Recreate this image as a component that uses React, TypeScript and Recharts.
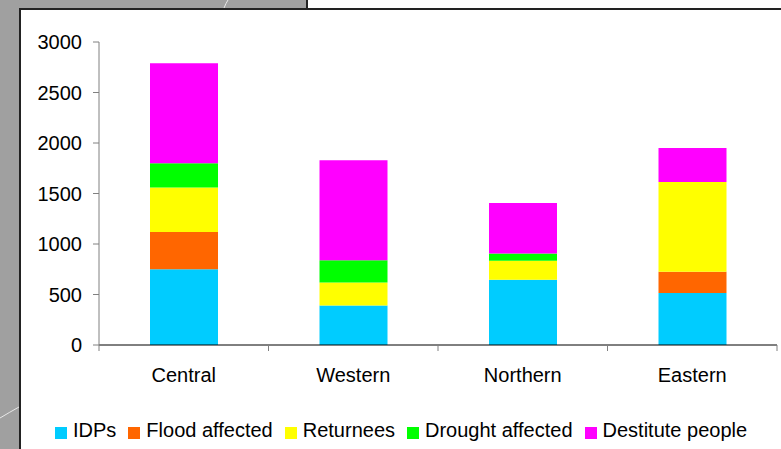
import { Bar, BarChart, Legend, XAxis, YAxis } from "recharts";

const regions = ["Central", "Western", "Northern", "Eastern"];
const idps = [750, 390, 645, 515];
const flood = [370, 0, 0, 210];
const returnees = [440, 230, 190, 890];
const drought = [240, 220, 70, 0];
const destitute = [990, 990, 500, 335];
const yTicks = [0, 500, 1000, 1500, 2000, 2500, 3000];

const series = [
  { key: "idps", name: "IDPs", color: "#00CCFF" },
  { key: "flood", name: "Flood affected", color: "#FF6600" },
  { key: "returnees", name: "Returnees", color: "#FFFF00" },
  { key: "drought", name: "Drought affected", color: "#00FF00" },
  { key: "destitute", name: "Destitute people", color: "#FF00FF" },
];

const data = regions.map((region, i) => ({
  region,
  idps: idps[i],
  flood: flood[i],
  returnees: returnees[i],
  drought: drought[i],
  destitute: destitute[i],
}));

const FONT = "'Liberation Sans', Arial, sans-serif";

const RegionTick = (props: any) => {
  const { x, y, payload, index } = props;
  const half = payload && payload.offset ? payload.offset : 84.75;
  return (
    <g>
      <line x1={x - half} y1={y} x2={x - half} y2={y + 6} stroke="#808080" />
      {index === regions.length - 1 && (
        <line x1={x + half} y1={y} x2={x + half} y2={y + 6} stroke="#808080" />
      )}
      <text x={x} y={y + 37} textAnchor="middle" fill="#000" fontSize={20}>
        {payload.value}
      </text>
    </g>
  );
};

const LegendBox = () => (
  <div
    style={{
      display: "flex",
      alignItems: "center",
      height: 24,
      paddingLeft: 35,
      fontSize: 20,
      fontFamily: FONT,
      color: "#000",
    }}
  >
    {series.map((s) => (
      <div key={s.key} style={{ display: "flex", alignItems: "center", marginRight: 12 }}>
        <span
          style={{
            display: "inline-block",
            width: 12,
            height: 12,
            background: s.color,
            marginRight: 6,
            marginTop: 5,
          }}
        />
        <span>{s.name}</span>
      </div>
    ))}
  </div>
);

export default function App() {
  return (
    <div
      style={{
        position: "absolute",
        left: 0,
        top: 0,
        width: 781,
        height: 449,
        background: "#a0a0a0",
        overflow: "hidden",
        fontFamily: FONT,
      }}
    >
      <svg width={781} height={449} style={{ position: "absolute", left: 0, top: 0 }}>
        <path d="M0 418 Q10 412 19 407" stroke="#e8e8e8" fill="none" />
        <path d="M224 8 Q226 3 228 0" stroke="#e8e8e8" fill="none" />
      </svg>
      <div
        style={{
          position: "absolute",
          left: 306,
          top: 0,
          right: 0,
          height: 9,
          background: "#fff",
          borderLeft: "2px solid #222",
        }}
      />
      <div
        style={{
          position: "absolute",
          left: 19,
          top: 8,
          width: 762,
          height: 441,
          background: "#fff",
          borderTop: "2px solid #222",
          borderLeft: "2px solid #222",
          boxSizing: "border-box",
        }}
      />
      <div style={{ position: "absolute", left: 0, top: 0 }}>
        <BarChart
          width={781}
          height={449}
          data={data}
          margin={{ top: 42, right: 4, left: 20, bottom: 7 }}
          style={{ fontFamily: FONT }}
        >
          <XAxis
            dataKey="region"
            height={73}
            interval={0}
            tickSize={0}
            tickMargin={0}
            tickLine={false}
            axisLine={{ stroke: "#000" }}
            tick={<RegionTick />}
          />
          <YAxis
            width={79}
            domain={[0, 3000]}
            ticks={yTicks}
            interval={0}
            tickSize={6}
            tickMargin={11}
            axisLine={{ stroke: "#808080" }}
            tickLine={{ stroke: "#808080" }}
            tick={{ fill: "#000", fontSize: 20 }}
          />
          <Legend verticalAlign="bottom" content={<LegendBox />} />
          {series.map((s) => (
            <Bar
              key={s.key}
              dataKey={s.key}
              name={s.name}
              stackId="a"
              fill={s.color}
              barSize={68}
              isAnimationActive={false}
            />
          ))}
        </BarChart>
      </div>
    </div>
  );
}
